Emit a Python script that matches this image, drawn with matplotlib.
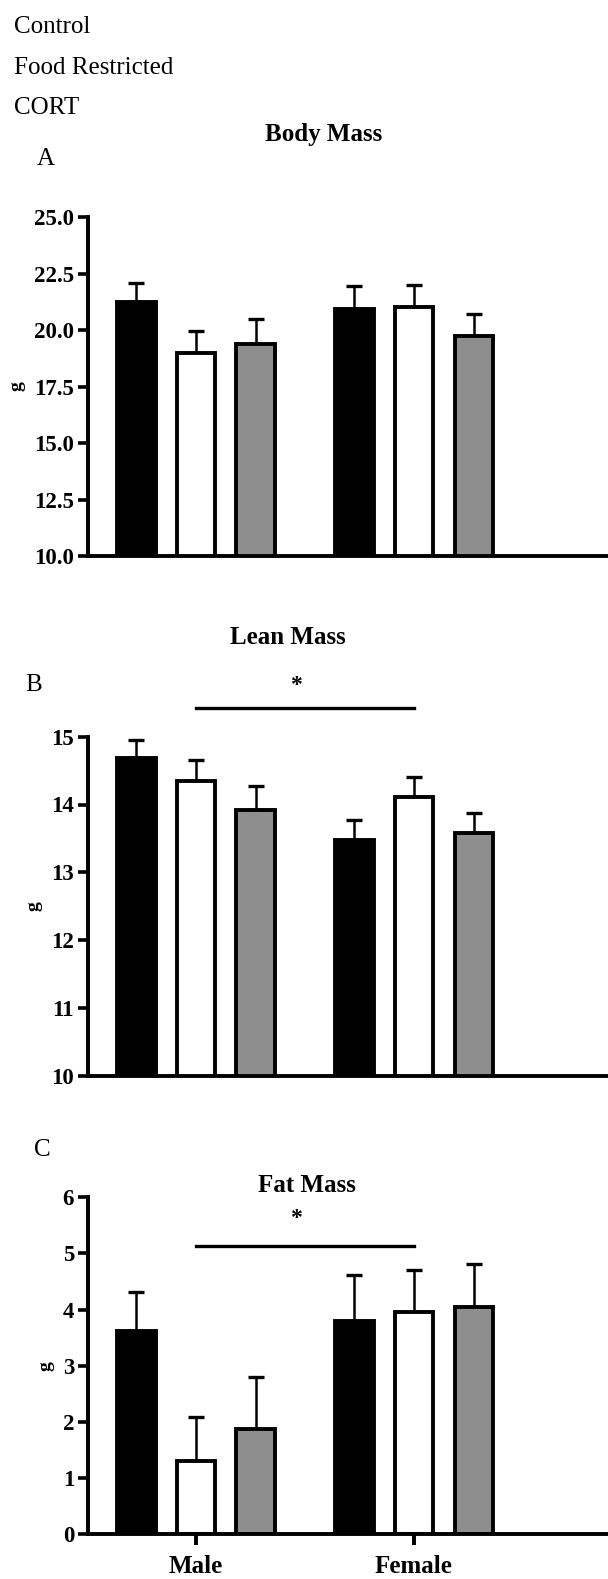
import numpy as np
import matplotlib
matplotlib.use("Agg")
import matplotlib.pyplot as plt

plt.rcParams['font.family'] = ['Liberation Serif', 'DejaVu Serif']

groups = ['Male', 'Female']
treatments = ['Control', 'Food Restricted', 'CORT']
colors = ['#000000', '#ffffff', '#8e8e8e']

# means per treatment, [male, female]
body_mean = {'Control': [21.25, 20.93], 'Food Restricted': [18.97, 21.03], 'CORT': [19.37, 19.75]}
body_err = {'Control': [0.85, 1.00], 'Food Restricted': [0.98, 0.95], 'CORT': [1.12, 0.94]}
lean_mean = {'Control': [14.69, 13.47], 'Food Restricted': [14.35, 14.11], 'CORT': [13.92, 13.58]}
lean_err = {'Control': [0.26, 0.30], 'Food Restricted': [0.30, 0.29], 'CORT': [0.35, 0.29]}
fat_mean = {'Control': [3.62, 3.80], 'Food Restricted': [1.30, 3.95], 'CORT': [1.88, 4.04]}
fat_err = {'Control': [0.70, 0.82], 'Food Restricted': [0.78, 0.76], 'CORT': [0.92, 0.77]}

W, H = 608, 1579
fig = plt.figure(figsize=(W / 100, H / 100), dpi=100)

def px_axes(top, bottom):
    return fig.add_axes([88 / W, 1 - bottom / H, 1 - 88 / W, (bottom - top) / H])

def draw_panel(ax, means, errs, ylim, yticks, fmt):
    x = np.arange(len(groups))
    offsets = [-0.273, 0.0, 0.275]
    for t, off, c in zip(treatments, offsets, colors):
        ax.errorbar(x + off, means[t], yerr=[np.zeros(2), errs[t]], fmt='none',
                    ecolor='black', elinewidth=1.8, capsize=6, capthick=2.4, zorder=1)
        ax.bar(x + off, means[t], width=0.178, color=c, edgecolor='black',
               linewidth=2.8, zorder=2)
    ax.set_xlim(-0.495, 1.89)
    ax.set_ylim(*ylim)
    ax.set_yticks(yticks)
    ax.set_yticklabels([fmt % v for v in yticks], fontsize=16.5, fontweight='bold')
    ax.set_ylabel('g', fontsize=14, fontweight='bold', labelpad=6)
    for s in ['top', 'right']:
        ax.spines[s].set_visible(False)
    for s in ['left', 'bottom']:
        ax.spines[s].set_linewidth(2.8)
    ax.tick_params(axis='y', length=7, width=2.6, pad=3)
    return x

axA = px_axes(217, 556)
draw_panel(axA, body_mean, body_err, (10, 25), [10, 12.5, 15, 17.5, 20, 22.5, 25], '%.1f')
axA.set_xticks([])

axB = px_axes(736.7, 1075.7)
draw_panel(axB, lean_mean, lean_err, (10, 15), [10, 11, 12, 13, 14, 15], '%d')
axB.set_xticks([])
axB.plot([0, 1], [15.43, 15.43], color='black', lw=2.4, clip_on=False)
axB.text(0.46, 15.76, '*', ha='center', va='center', fontsize=17, fontweight='bold')

axC = px_axes(1197.3, 1534.3)
xC = draw_panel(axC, fat_mean, fat_err, (0, 6), [0, 1, 2, 3, 4, 5, 6], '%d')
axC.set_xticks(xC)
axC.set_xticklabels(groups, fontsize=18, fontweight='bold')
axC.tick_params(axis='x', direction='out', length=8, width=2.8, pad=7)
axC.plot([0, 1], [5.14, 5.14], color='black', lw=2.4, clip_on=False)
axC.text(0.46, 5.63, '*', ha='center', va='center', fontsize=17, fontweight='bold')

def ftext(x, y, s, **kw):
    fig.text(x / W, 1 - y / H, s, **kw)

# legend text (no swatches in the original)
for y, t in zip([27, 68, 108], treatments):
    ftext(14, y, t, ha='left', va='center', fontsize=18)

ftext(324, 135, 'Body Mass', ha='center', va='center', fontsize=18, fontweight='bold')
ftext(288, 637, 'Lean Mass', ha='center', va='center', fontsize=18, fontweight='bold')
ftext(307, 1185, 'Fat Mass', ha='center', va='center', fontsize=18, fontweight='bold')
ftext(46, 159, 'A', ha='center', va='center', fontsize=18)
ftext(34, 685, 'B', ha='center', va='center', fontsize=18)
ftext(42, 1150, 'C', ha='center', va='center', fontsize=18)

fig.savefig('out.png', dpi=100, facecolor='white')
